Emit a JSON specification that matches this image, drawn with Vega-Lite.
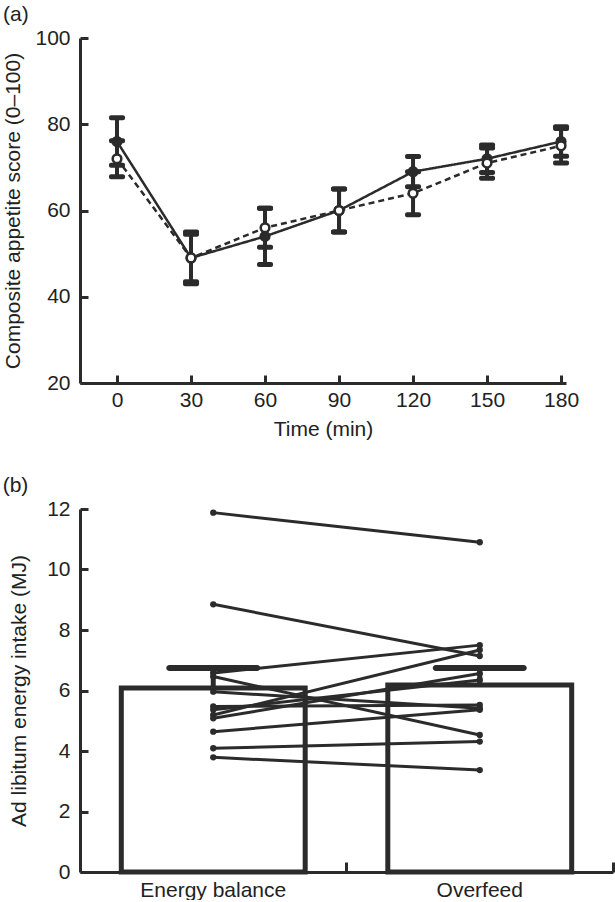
{
  "$schema": "https://vega.github.io/schema/vega-lite/v6.json",
  "padding": {"left": 2, "top": 4, "right": 0, "bottom": 0},
  "spacing": 36,
  "datasets": {
    "appetite": [
      {"time": 0, "group": "filled", "mean": 76, "lo": 70.5, "hi": 81.5},
      {"time": 30, "group": "filled", "mean": 49, "lo": 43, "hi": 55},
      {"time": 60, "group": "filled", "mean": 54, "lo": 47.5, "hi": 60.5},
      {"time": 90, "group": "filled", "mean": 60, "lo": 55, "hi": 65},
      {"time": 120, "group": "filled", "mean": 69, "lo": 65.5, "hi": 72.5},
      {"time": 150, "group": "filled", "mean": 72, "lo": 68.8, "hi": 75.2},
      {"time": 180, "group": "filled", "mean": 76, "lo": 72.6, "hi": 79.4},
      {"time": 0, "group": "open", "mean": 72, "lo": 67.8, "hi": 76.2},
      {"time": 30, "group": "open", "mean": 49, "lo": 43.5, "hi": 54.5},
      {"time": 60, "group": "open", "mean": 56, "lo": 51.5, "hi": 60.5},
      {"time": 90, "group": "open", "mean": 60, "lo": 55, "hi": 65},
      {"time": 120, "group": "open", "mean": 64, "lo": 59, "hi": 69},
      {"time": 150, "group": "open", "mean": 71, "lo": 67.5, "hi": 74.5},
      {"time": 180, "group": "open", "mean": 75, "lo": 71, "hi": 79}
    ],
    "intake_means": [
      {"condition": "Energy balance", "mean": 6.08, "upper": 6.74},
      {"condition": "Overfeed", "mean": 6.18, "upper": 6.74}
    ],
    "intake_individual": [
      {"subject": 1, "condition": "Energy balance", "intake": 11.88},
      {"subject": 1, "condition": "Overfeed", "intake": 10.9},
      {"subject": 2, "condition": "Energy balance", "intake": 8.85},
      {"subject": 2, "condition": "Overfeed", "intake": 7.14},
      {"subject": 3, "condition": "Energy balance", "intake": 6.58},
      {"subject": 3, "condition": "Overfeed", "intake": 7.5},
      {"subject": 4, "condition": "Energy balance", "intake": 6.46},
      {"subject": 4, "condition": "Overfeed", "intake": 4.53},
      {"subject": 5, "condition": "Energy balance", "intake": 5.96},
      {"subject": 5, "condition": "Overfeed", "intake": 5.41},
      {"subject": 6, "condition": "Energy balance", "intake": 5.47},
      {"subject": 6, "condition": "Overfeed", "intake": 5.52},
      {"subject": 7, "condition": "Energy balance", "intake": 5.36},
      {"subject": 7, "condition": "Overfeed", "intake": 6.35},
      {"subject": 8, "condition": "Energy balance", "intake": 5.19},
      {"subject": 8, "condition": "Overfeed", "intake": 7.34},
      {"subject": 9, "condition": "Energy balance", "intake": 5.08},
      {"subject": 9, "condition": "Overfeed", "intake": 6.56},
      {"subject": 10, "condition": "Energy balance", "intake": 4.64},
      {"subject": 10, "condition": "Overfeed", "intake": 5.36},
      {"subject": 11, "condition": "Energy balance", "intake": 4.09},
      {"subject": 11, "condition": "Overfeed", "intake": 4.31},
      {"subject": 12, "condition": "Energy balance", "intake": 3.79},
      {"subject": 12, "condition": "Overfeed", "intake": 3.37}
    ]
  },
  "config": {
    "font": "Liberation Sans",
    "view": {"stroke": null},
    "axis": {
      "grid": false,
      "domainColor": "#2b2b2b",
      "domainWidth": 3,
      "tickColor": "#2b2b2b",
      "tickWidth": 3,
      "labelFont": "Liberation Sans",
      "labelFontSize": 21,
      "labelColor": "#222222",
      "titleFont": "Liberation Sans",
      "titleFontSize": 21,
      "titleFontWeight": "normal",
      "titleColor": "#222222"
    },
    "title": {"font": "Liberation Sans", "fontSize": 21, "fontWeight": "normal", "color": "#222222"}
  },
  "vconcat": [
    {
      "width": 486,
      "height": 345,
      "title": {"text": "(a)", "anchor": "start", "frame": "bounds", "offset": 2, "dx": 0},
      "data": {"name": "appetite"},
      "encoding": {
        "x": {
          "field": "time", "type": "quantitative",
          "scale": {"domain": [-15, 182], "nice": false, "zero": false},
          "axis": {"title": "Time (min)", "values": [0, 30, 60, 90, 120, 150, 180], "tickSize": -8, "labelPadding": 14, "titlePadding": 8}
        }
      },
      "layer": [
        {
          "mark": {"type": "line", "color": "#2b2b2b", "strokeWidth": 2.5},
          "encoding": {
            "y": {
              "field": "mean", "type": "quantitative",
              "scale": {"domain": [20, 100], "nice": false, "zero": false},
              "axis": {"title": "Composite appetite score (0–100)", "values": [20, 40, 60, 80, 100], "tickSize": -8, "labelPadding": 18, "titlePadding": 11}
            },
            "strokeDash": {"field": "group", "type": "nominal", "scale": {"domain": ["filled", "open"], "range": [[1, 0], [6, 4]]}, "legend": null}
          }
        },
        {
          "mark": {"type": "rule", "color": "#2b2b2b", "strokeWidth": 4},
          "encoding": {
            "y": {"field": "lo", "type": "quantitative"},
            "y2": {"field": "hi"}
          }
        },
        {
          "mark": {"type": "tick", "orient": "horizontal", "color": "#2b2b2b", "opacity": 1, "size": 16, "thickness": 5, "cornerRadius": 2},
          "encoding": {"y": {"field": "lo", "type": "quantitative"}}
        },
        {
          "mark": {"type": "tick", "orient": "horizontal", "color": "#2b2b2b", "opacity": 1, "size": 16, "thickness": 5, "cornerRadius": 2},
          "encoding": {"y": {"field": "hi", "type": "quantitative"}}
        },
        {
          "mark": {"type": "point", "shape": "circle", "filled": false, "size": 75, "stroke": "#2b2b2b", "strokeWidth": 2.5, "opacity": 1},
          "encoding": {
            "y": {"field": "mean", "type": "quantitative"},
            "fill": {"field": "group", "type": "nominal", "scale": {"domain": ["filled", "open"], "range": ["#2b2b2b", "#ffffff"]}, "legend": null}
          }
        }
      ]
    },
    {
      "width": 533,
      "height": 363,
      "title": {"text": "(b)", "anchor": "start", "frame": "bounds", "offset": 2, "dx": -6},
      "encoding": {
        "x": {
          "field": "condition", "type": "nominal",
          "scale": {"type": "band", "domain": ["Energy balance", "Overfeed"], "paddingInner": 0, "paddingOuter": 0},
          "axis": {"title": null, "labelAngle": 0, "tickSize": -10, "bandPosition": 1, "labelPadding": 17}
        }
      },
      "layer": [
        {
          "data": {"name": "intake_means"},
          "mark": {"type": "bar", "fill": "#ffffff", "stroke": "#2b2b2b", "strokeWidth": 5, "width": {"band": 0.69}},
          "encoding": {
            "y": {
              "field": "mean", "type": "quantitative",
              "scale": {"domain": [0, 12], "nice": false},
              "axis": {"title": "Ad libitum energy intake (MJ)", "values": [0, 2, 4, 6, 8, 10, 12], "tickSize": -8, "labelPadding": 18, "titlePadding": 17}
            }
          }
        },
        {
          "data": {"name": "intake_individual"},
          "mark": {"type": "line", "color": "#2b2b2b", "strokeWidth": 3, "point": {"filled": true, "size": 40, "color": "#2b2b2b", "opacity": 1}},
          "encoding": {
            "y": {"field": "intake", "type": "quantitative"},
            "detail": {"field": "subject", "type": "nominal"}
          }
        },
        {
          "data": {"name": "intake_means"},
          "mark": {"type": "rule", "color": "#2b2b2b", "strokeWidth": 5},
          "encoding": {
            "y": {"field": "mean", "type": "quantitative"},
            "y2": {"field": "upper"}
          }
        },
        {
          "data": {"name": "intake_means"},
          "mark": {"type": "tick", "orient": "horizontal", "color": "#2b2b2b", "opacity": 1, "size": 94, "thickness": 6, "cornerRadius": 3},
          "encoding": {"y": {"field": "upper", "type": "quantitative"}}
        }
      ]
    }
  ]
}
